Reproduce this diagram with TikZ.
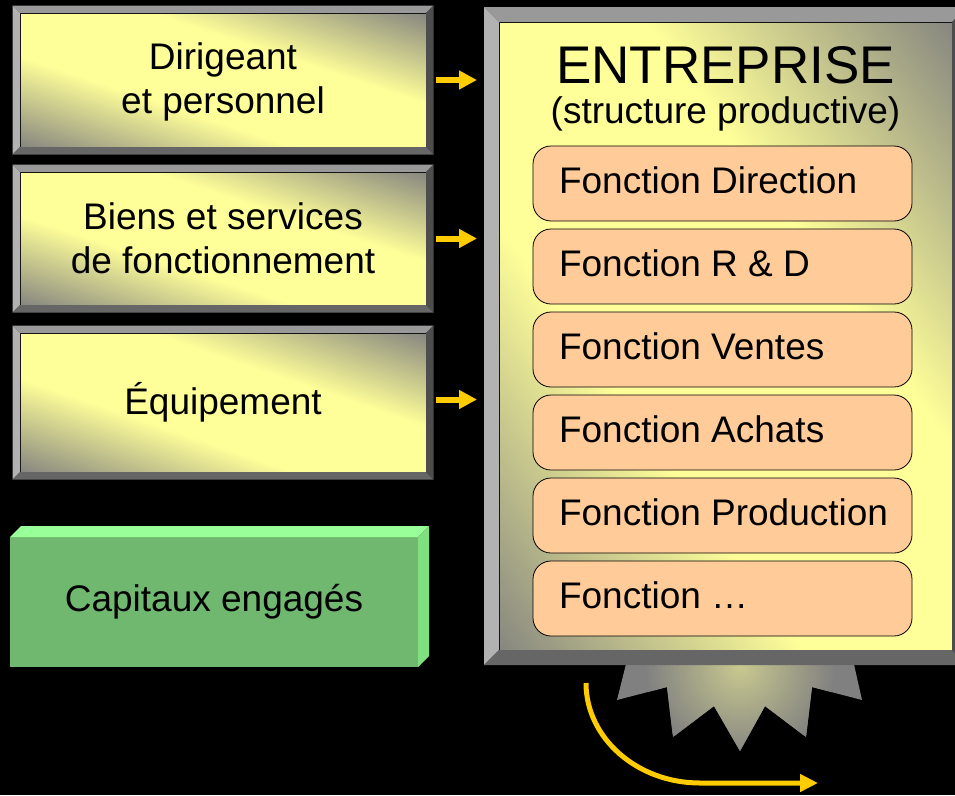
\documentclass[tikz,border=0pt]{standalone}
\usepackage{fontspec}
\setmainfont{Liberation Sans}
\usetikzlibrary{calc,arrows.meta}
\pgfdeclarelayer{bg}
\pgfsetlayers{bg,main}
\definecolor{fyel}{HTML}{FFFF99}
\definecolor{fgray}{HTML}{868680}
\definecolor{bvtop}{HTML}{999999}
\definecolor{bvleft}{HTML}{B2B2B2}
\definecolor{bvright}{HTML}{4D4D4D}
\definecolor{bvbot}{HTML}{666666}
\definecolor{gold}{HTML}{FFCC00}
\definecolor{fnfill}{HTML}{FFCC99}
\definecolor{gfront}{HTML}{70B870}
\definecolor{gtop}{HTML}{99FF99}
\definecolor{gside}{HTML}{80E080}
\definecolor{starhl}{HTML}{C8C890}
\definecolor{stargray}{HTML}{808080}
\pgfdeclarehorizontalshading{facesh}{100bp}{color(0bp)=(fgray); color(25bp)=(fgray); color(42bp)=(fyel); color(58bp)=(fyel); color(75bp)=(fgray); color(100bp)=(fgray)}
\newcommand\bevelframe[2]{%
  \fill[bvtop] ($(#1.north west)+(-#2,-#2)$) -- ($(#1.north east)+(#2,-#2)$) -- (#1.north east) -- (#1.north west) -- cycle;
  \fill[bvleft] ($(#1.north west)+(-#2,-#2)$) -- (#1.north west) -- (#1.south west) -- ($(#1.south west)+(-#2,#2)$) -- cycle;
  \fill[bvright] ($(#1.north east)+(#2,-#2)$) -- ($(#1.south east)+(#2,#2)$) -- (#1.south east) -- (#1.north east) -- cycle;
  \fill[bvbot] ($(#1.south west)+(-#2,#2)$) -- (#1.south west) -- (#1.south east) -- ($(#1.south east)+(#2,#2)$) -- cycle;
}
% #1 node, #2 angle, #3 half extent along gradient, #4 half extent across
\newcommand\gradface[4]{%
  \begin{pgfonlayer}{bg}
  \begin{scope}
    \clip (#1.north west) rectangle (#1.south east);
    \begin{scope}[transform canvas={rotate around={#2:(#1.center)}}]
      \shade[shading=facesh] ($(#1.center)+(-#3,-#4)$) rectangle ($(#1.center)+(#3,#4)$);
    \end{scope}
  \end{scope}
  \end{pgfonlayer}}
\tikzset{
  face/.style={draw=black, line width=0.8pt, outer sep=0pt, inner sep=0pt,
    align=center, font=\fontsize{37}{44}\selectfont},
  fnbox/.style={draw=black, line width=0.8pt, fill=fnfill, rounded corners=18pt,
    minimum width=379pt, minimum height=75pt, inner sep=0pt, outer sep=0pt,
    text height=27pt, text depth=8pt, font=\fontsize{37}{44}\selectfont},
  goldarrow/.style={draw=gold, line width=6pt, -{Triangle[length=18pt,width=18pt]}},
}
\begin{document}
\begin{tikzpicture}[x=1pt,y=-1pt]
\useasboundingbox (0,0) rectangle (955,795);
\clip (0,0) rectangle (955,795);
\begin{pgfonlayer}{bg}
\fill[black] (0,0) rectangle (955,795);
% starburst
\begin{scope}
\clip (627,660) -- (617,700) -- (667,687) -- (673,737) -- (714,706) -- (740,751) -- (765,706) -- (806,737) -- (812,687) -- (862,700) -- (853,660) -- cycle;
\fill[stargray] (600,650) rectangle (880,760);
\shade[inner color=starhl, outer color=stargray] (740,667) circle (95);
\end{scope}
\end{pgfonlayer}

% big box
\node[face, minimum width=453pt, minimum height=628pt] (ent) at (725.5,336) {};
\gradface{ent}{35.8}{367.4}{400}
\bevelframe{ent}{15}
\node[anchor=base, font=\fontsize{53}{60}\selectfont] (t1) at (725.5,83) {ENTREPRISE};
\node[anchor=base, font=\fontsize{37}{44}\selectfont] (t2) at (725.5,123) {(structure productive)};

\node[fnbox] (f1) at (722.5,183.5) {\makebox[327pt][l]{Fonction Direction}};
\node[fnbox] (f2) at (722.5,266.5) {\makebox[327pt][l]{Fonction R \& D}};
\node[fnbox] (f3) at (722.5,349.5) {\makebox[327pt][l]{Fonction Ventes}};
\node[fnbox] (f4) at (722.5,432.5) {\makebox[327pt][l]{Fonction Achats}};
\node[fnbox] (f5) at (722.5,515.5) {\makebox[327pt][l]{Fonction Production}};
\node[fnbox] (f6) at (722.5,598.5) {\makebox[327pt][l]{Fonction …}};

% left boxes
\node[face, minimum width=406pt, minimum height=134pt, text depth=3pt] (b1) at (223,80) {Dirigeant\\et personnel};
\gradface{b1}{71.7}{127.3}{230}
\bevelframe{b1}{7.5}
\node[face, minimum width=406pt, minimum height=133pt] (b2) at (223,238.5) {Biens et services\\de fonctionnement};
\gradface{b2}{71.9}{126.4}{230}
\bevelframe{b2}{7.5}
\node[face, minimum width=406pt, minimum height=139pt] (b3) at (223,402.5) {Équipement};
\gradface{b3}{71.1}{131.5}{230}
\bevelframe{b3}{7.5}

% green box
\node[fill=gfront, minimum width=408pt, minimum height=130pt, inner sep=0pt, outer sep=0pt,
  font=\fontsize{37}{44}\selectfont] (cap) at (214,602) {Capitaux engagés};
\fill[gtop] (cap.north west) -- ($(cap.north west)+(11,-11)$) -- ($(cap.north east)+(11,-11)$) -- (cap.north east) -- cycle;
\fill[gside] (cap.north east) -- ($(cap.north east)+(11,-11)$) -- ($(cap.south east)+(11,-11)$) -- (cap.south east) -- cycle;

% arrows
\draw[goldarrow] ($(b1.east)+(10,0)$) -- ($(b1.east -| ent.west)+(-22,0)$);
\draw[goldarrow] ($(b2.east)+(10,0)$) -- ($(b2.east -| ent.west)+(-22,0)$);
\draw[goldarrow] ($(b3.east)+(10,-3)$) -- ($(b3.east -| ent.west)+(-22,-3)$);

\coordinate (cs) at (586,683);
\coordinate (ce) at (818,783);
\draw[draw=gold, line width=5pt, -{Triangle[length=18pt,width=17pt]}] (cs) .. controls (586,738) and (637,783) .. (700,783) -- (ce);
\end{tikzpicture}
\end{document}
